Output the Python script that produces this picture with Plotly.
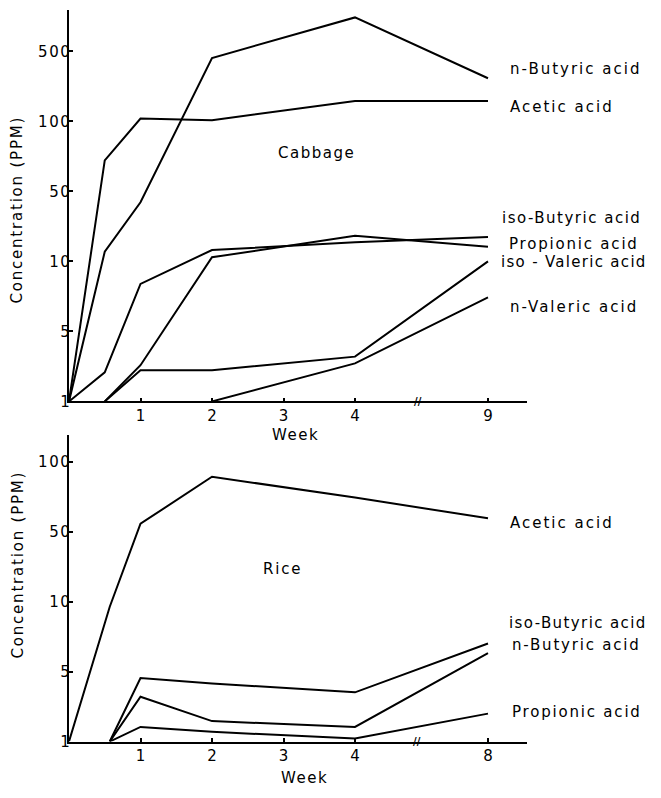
import numpy as np
import plotly.graph_objects as go

W, H = 661, 798
FONT = "DejaVu Sans"

# ---------------- data ----------------
# y-axis tick values (drawn equally spaced, as in the original figure)
Y_TICKS = [1, 5, 10, 50, 100, 500]
Y_TICK_LABELS = ["1", "5", "10", "50", "100", "500"]
SCALE_VALS = [1, 5, 10, 50, 100, 500, 1000]   # scale continuation above 500

CAB_X_TICKS = [1, 2, 3, 4, 9]
RICE_X_TICKS = [1, 2, 3, 4, 8]

# Cabbage (weeks, ppm)
cab_weeks = [0, 0.5, 1, 2, 4, 9]
cab_n_butyric = [1, 12.5, 39, 430, 700, 270]
cab_acetic = [1, 68, 107, 103, 160, 160]
cab_iso_butyric = [1, 1.95, 8, 13, 15.5, 17.5]
cab_weeks_b = [0.5, 1, 2, 4, 9]
cab_propionic = [1, 2.3, 11, 18, 14]
cab_iso_valeric = [1, 2.05, 2.05, 2.8, 10]
cab_weeks_c = [2, 4, 9]
cab_n_valeric = [1, 2.4, 7]

# Rice (weeks, ppm)
rice_weeks = [0, 0.57, 1, 2, 4, 8]
rice_acetic = [1, 9.5, 54, 86, 70, 57]
rice_weeks_b = [0.57, 1, 2, 4, 8]
rice_iso_butyric = [1, 4.3, 3.8, 3.1, 6.6]
rice_n_butyric = [1, 2.8, 1.6, 1.4, 6.0]
rice_propionic = [1, 1.4, 1.25, 1.07, 1.9]

# ---------------- scales ----------------
BREAK_AT = 4
POST_BREAK_POS = 5.86


def xpos(weeks):
    return [w if w <= BREAK_AT else POST_BREAK_POS for w in weeks]


def ypos(vals):
    return list(np.interp(np.log10(vals), np.log10(SCALE_VALS),
                          np.arange(len(SCALE_VALS))))


def ls(t, s=2):
    return f'<span style="letter-spacing:{s}px">{t}</span>'


def px(xp, yp):
    return xp / W, 1 - yp / H


fig = go.Figure()
line = dict(color="black", width=2)

top_series = [
    (cab_weeks, cab_n_butyric),
    (cab_weeks, cab_acetic),
    (cab_weeks, cab_iso_butyric),
    (cab_weeks_b, cab_propionic),
    (cab_weeks_b, cab_iso_valeric),
    (cab_weeks_c, cab_n_valeric),
]
for wk, v in top_series:
    fig.add_trace(go.Scatter(x=xpos(wk), y=ypos(v), mode="lines", line=line,
                             xaxis="x", yaxis="y", showlegend=False,
                             hoverinfo="skip"))

bot_series = [
    (rice_weeks, rice_acetic),
    (rice_weeks_b, rice_iso_butyric),
    (rice_weeks_b, rice_n_butyric),
    (rice_weeks_b, rice_propionic),
]
for wk, v in bot_series:
    fig.add_trace(go.Scatter(x=xpos(wk), y=ypos(v), mode="lines", line=line,
                             xaxis="x2", yaxis="y2", showlegend=False,
                             hoverinfo="skip"))

X0, X1 = 69, 527
XSTEP = 71.5
YSTEP = 70.8
TOP_Y0, TOP_Y1 = 406, 10
BOT_Y0, BOT_Y1 = 750, 440

axis_common = dict(showline=True, linecolor="black", linewidth=1.5,
                   ticks="inside", ticklen=4, tickwidth=1.5, tickcolor="black",
                   showgrid=False, zeroline=False,
                   tickfont=dict(family=FONT, size=15, color="black"))

fig.update_layout(
    width=W, height=H,
    margin=dict(l=0, r=0, t=0, b=0),
    paper_bgcolor="white", plot_bgcolor="white",
    font=dict(family=FONT, size=15, color="black"),
    xaxis=dict(domain=[X0 / W, X1 / W], range=[0, (X1 - X0) / XSTEP],
               anchor="y", tickvals=xpos(CAB_X_TICKS),
               ticktext=[str(t) for t in CAB_X_TICKS], **axis_common),
    yaxis=dict(domain=[1 - TOP_Y0 / H, 1 - TOP_Y1 / H],
               range=[0, (TOP_Y0 - TOP_Y1) / YSTEP], anchor="x",
               tickvals=ypos(Y_TICKS), ticklabelstandoff=-7,
               ticktext=[ls(t, 1.5) for t in Y_TICK_LABELS], **axis_common),
    xaxis2=dict(domain=[X0 / W, X1 / W], range=[0, (X1 - X0) / XSTEP],
                anchor="y2", tickvals=xpos(RICE_X_TICKS),
                ticktext=[str(t) for t in RICE_X_TICKS], **axis_common),
    yaxis2=dict(domain=[1 - BOT_Y0 / H, 1 - BOT_Y1 / H],
                range=[0, (BOT_Y0 - BOT_Y1) / YSTEP], anchor="x2",
                tickvals=ypos(Y_TICKS[:5]), ticklabelstandoff=-7,
                ticktext=[ls(t, 1.5) for t in Y_TICK_LABELS[:5]], **axis_common),
)

annots = []


def text(t, xp, yp, xanchor="left", angle=0, size=15, spacing=1.8):
    x, y = px(xp, yp)
    annots.append(dict(text=ls(t, spacing), x=x, y=y, xref="paper", yref="paper",
                       xanchor=xanchor, yanchor="middle", showarrow=False,
                       textangle=angle,
                       font=dict(family=FONT, size=size, color="black")))


# top panel labels
text("n-Butyric acid", 508, 70, spacing=2)
text("Acetic acid", 508, 108, spacing=2)
text("Cabbage", 316, 155, xanchor="center", spacing=1.5)
text("iso-Butyric acid", 500, 220, spacing=1.5)
text("Propionic acid", 507, 247)
text("iso - Valeric acid", 499, 265, spacing=1.3)
text("n-Valeric acid", 508, 310, spacing=2)
# bottom panel labels
text("Acetic acid", 508, 529, spacing=2)
text("Rice", 282, 575, xanchor="center")
text("iso-Butyric acid", 507, 630, spacing=1.4)
text("n-Butyric acid", 510, 652)
text("Propionic acid", 510, 720)
# axis titles
text("Week", 295, 440, xanchor="center", spacing=1.5)
text("Week", 304, 787, xanchor="center", spacing=1.5)
text("Concentration (PPM)", 17, 212, xanchor="center", angle=-90)
text("Concentration (PPM)", 18, 571, xanchor="center", angle=-90)
# axis break marks
for bx, by in [(418, TOP_Y0), (417, BOT_Y0)]:
    x, y = px(bx, by)
    annots.append(dict(text="<b>//</b>", x=x, y=y, xref="paper", yref="paper",
                       xanchor="center", yanchor="middle", showarrow=False,
                       font=dict(family=FONT, size=10, color="black")))

fig.update_layout(annotations=annots)

fig.write_html("out.html")
